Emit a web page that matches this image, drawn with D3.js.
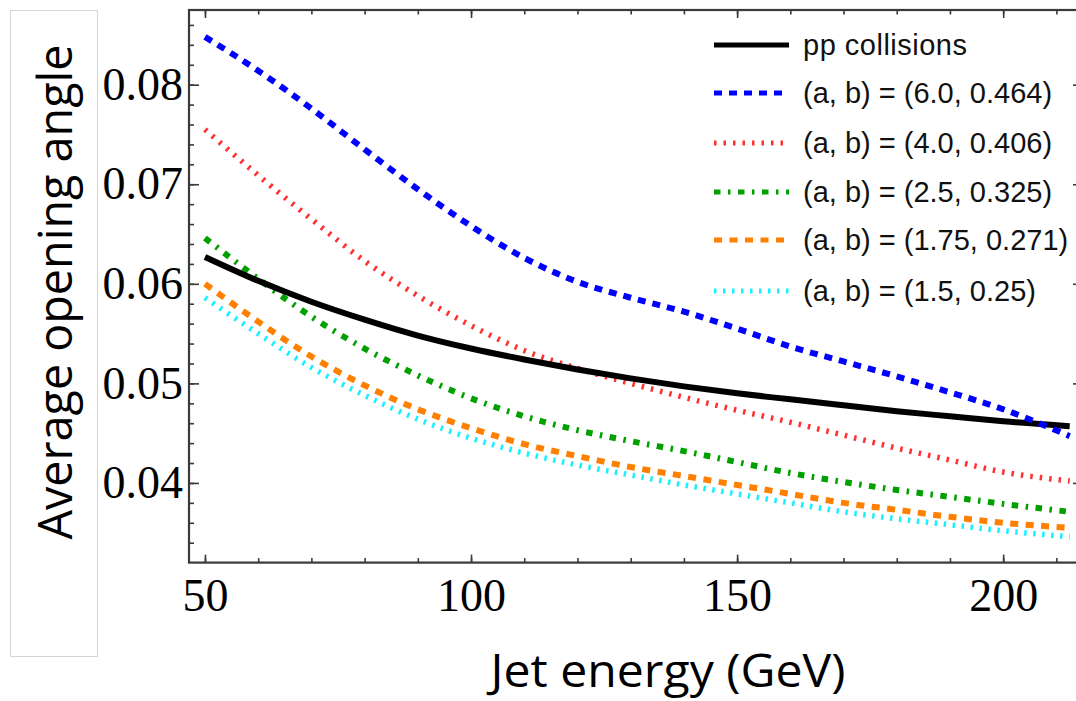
<!DOCTYPE html>
<html>
<head>
<meta charset="utf-8">
<script src="https://cdn.jsdelivr.net/npm/d3@7"></script>
<style>
  html, body { margin: 0; padding: 0; background: #fff; }
  svg { display: block; }
</style>
</head>
<body>
<svg id="chart" width="1076" height="701"></svg>
<script>
// Jet energy grid (GeV) shared by every curve
const energies = [50, 60, 70, 80, 90, 100, 110, 120, 130, 140, 150, 160, 170, 180, 190, 200, 212.5];

// Average opening angle for each medium parameter set
const ppCollisions = [0.0627, 0.0603, 0.0582, 0.0564, 0.0548, 0.0535, 0.0524, 0.0514, 0.0505, 0.0497, 0.0490, 0.0484, 0.0478, 0.0472, 0.0467, 0.0462, 0.0457];
const ab60_0464 = [0.0848, 0.0814, 0.0776, 0.0735, 0.0695, 0.0658, 0.0626, 0.0602, 0.0586, 0.0572, 0.0555, 0.0537, 0.0522, 0.0507, 0.0491, 0.0474, 0.0447];
const ab40_0406 = [0.0755, 0.0709, 0.0665, 0.0623, 0.0588, 0.0558, 0.0533, 0.0515, 0.0500, 0.0486, 0.0473, 0.0461, 0.0448, 0.0435, 0.0423, 0.0411, 0.0402];
const ab25_0325 = [0.0646, 0.0605, 0.0567, 0.0535, 0.0508, 0.0485, 0.0467, 0.0453, 0.0442, 0.0432, 0.0421, 0.0410, 0.0401, 0.0393, 0.0386, 0.0379, 0.0371];
const ab175_0271 = [0.0600, 0.0562, 0.0527, 0.0498, 0.0474, 0.0455, 0.0439, 0.0427, 0.0416, 0.0407, 0.0398, 0.0389, 0.0380, 0.0373, 0.0366, 0.0360, 0.0355];
const ab15_025 = [0.0586, 0.0550, 0.0516, 0.0488, 0.0464, 0.0445, 0.0430, 0.0418, 0.0408, 0.0398, 0.0389, 0.0380, 0.0371, 0.0364, 0.0358, 0.0352, 0.0346];

const seriesLabels = ["pp collisions", "(a, b) = (6.0, 0.464)", "(a, b) = (4.0, 0.406)", "(a, b) = (2.5, 0.325)", "(a, b) = (1.75, 0.271)", "(a, b) = (1.5, 0.25)"];

// Axis ticks
const xMajorTicks = [50, 100, 150, 200];
const xMinorTicks = d3.range(50, 215, 10);
const yMajorTicks = [0.04, 0.05, 0.06, 0.07, 0.08];
const yMinorTicks = d3.range(17, 44).map(k => k * 0.002);

// Line styles for each curve
const styles = [
  { color: "#000000", width: 6,   dash: null },
  { color: "#0000ff", width: 6,   dash: "8,7" },
  { color: "#ff3030", width: 5.5, dash: "2.5,7" },
  { color: "#00a000", width: 6,   dash: "6.5,7.5,2.5,7.5" },
  { color: "#ff8000", width: 6,   dash: "8,7.5" },
  { color: "#19f0ff", width: 5.5, dash: "2.5,6.5" }
];

const seriesValues = [ppCollisions, ab60_0464, ab40_0406, ab25_0325, ab175_0271, ab15_025];

const svg = d3.select("#chart");

// Plot frame
const plotLeft = 189, plotRight = 1083, plotTop = 10, plotBottom = 562.6;

const x = d3.scaleLinear().domain([47, 215]).range([plotLeft, plotRight]);
const y = d3.scaleLinear().domain([0.032, 0.0875]).range([plotBottom, plotTop]);

// Box around the vertical axis title
svg.append("rect")
  .attr("x", 10.5).attr("y", 10.5)
  .attr("width", 87).attr("height", 646)
  .attr("fill", "#fff")
  .attr("stroke", "#d4d4d4").attr("stroke-width", 1);

const axisColor = "#3a3a3a";
const tickFont = "'Liberation Serif', 'Times New Roman', serif";

function styleAxis(g) {
  g.selectAll("path.domain").remove();
  g.selectAll(".tick line").attr("stroke", axisColor).attr("stroke-width", 1.6);
  g.selectAll(".tick text")
    .attr("fill", "#000")
    .style("font-family", tickFont)
    .style("font-size", "46px");
}

// Bottom axis
svg.append("g").attr("transform", `translate(0,${plotBottom})`)
  .call(d3.axisBottom(x).tickValues(xMinorTicks).tickSize(-4.5).tickFormat(""))
  .call(styleAxis);
svg.append("g").attr("transform", `translate(0,${plotBottom})`)
  .call(d3.axisBottom(x).tickValues(xMajorTicks).tickSize(-8).tickPadding(16).tickFormat(d3.format("d")))
  .call(styleAxis);

// Top axis (ticks only)
svg.append("g").attr("transform", `translate(0,${plotTop})`)
  .call(d3.axisTop(x).tickValues(xMinorTicks).tickSize(-4.5).tickFormat(""))
  .call(styleAxis);
svg.append("g").attr("transform", `translate(0,${plotTop})`)
  .call(d3.axisTop(x).tickValues(xMajorTicks).tickSize(-8).tickFormat(""))
  .call(styleAxis);

// Left axis
svg.append("g").attr("transform", `translate(${plotLeft},0)`)
  .call(d3.axisLeft(y).tickValues(yMinorTicks).tickSize(-5).tickFormat(""))
  .call(styleAxis);
svg.append("g").attr("transform", `translate(${plotLeft},0)`)
  .call(d3.axisLeft(y).tickValues(yMajorTicks).tickSize(-10).tickPadding(6).tickFormat(d3.format(".2f")))
  .call(styleAxis);

// Right axis (ticks only)
svg.append("g").attr("transform", `translate(${plotRight},0)`)
  .call(d3.axisRight(y).tickValues(yMinorTicks).tickSize(-5).tickFormat(""))
  .call(styleAxis);
svg.append("g").attr("transform", `translate(${plotRight},0)`)
  .call(d3.axisRight(y).tickValues(yMajorTicks).tickSize(-10).tickFormat(""))
  .call(styleAxis);

// Frame lines
svg.append("rect")
  .attr("x", plotLeft).attr("y", plotTop)
  .attr("width", plotRight - plotLeft).attr("height", plotBottom - plotTop)
  .attr("fill", "none").attr("stroke", axisColor).attr("stroke-width", 2.2);

// Curves
const line = d3.line()
  .x((d, i) => x(energies[i]))
  .y(d => y(d))
  .curve(d3.curveMonotoneX);

const curvesG = svg.append("g");
// black goes over the lower curves, blue goes over black where they cross
const drawOrder = [2, 3, 4, 5, 0, 1];
drawOrder.forEach(k => {
  const s = styles[k];
  curvesG.append("path")
    .datum(seriesValues[k])
    .attr("d", line)
    .attr("fill", "none")
    .attr("stroke", s.color)
    .attr("stroke-width", s.width)
    .attr("stroke-dasharray", s.dash)
    .attr("stroke-linecap", "butt")
    .attr("stroke-linejoin", "round");
});

// Legend
const legendX0 = 714, legendX1 = 789, legendTextX = 803;
const legendRows = [45, 93, 143, 192, 240, 291];
const legend = svg.append("g");
seriesLabels.forEach((label, k) => {
  const s = styles[k];
  const yy = legendRows[k];
  legend.append("line")
    .attr("x1", legendX0).attr("x2", legendX1)
    .attr("y1", yy).attr("y2", yy)
    .attr("stroke", s.color)
    .attr("stroke-width", 5)
    .attr("stroke-dasharray", s.dash);
  legend.append("text")
    .attr("x", legendTextX).attr("y", yy)
    .attr("dy", "0.35em")
    .attr("textLength", k === 0 ? 164 : null)
    .style("font-family", "'Liberation Sans', Arial, sans-serif")
    .style("font-size", "29px")
    .attr("fill", "#111")
    .text(label);
});

// Axis titles
svg.append("text")
  .attr("transform", "translate(72,292) rotate(-90)")
  .attr("text-anchor", "middle")
  .attr("textLength", 495)
  .attr("lengthAdjust", "spacingAndGlyphs")
  .style("font-family", "'Open Sans', sans-serif")
  .style("font-size", "47px")
  .attr("fill", "#000")
  .text("Average opening angle");

svg.append("text")
  .attr("x", 668).attr("y", 687)
  .attr("text-anchor", "middle")
  .attr("textLength", 355)
  .attr("lengthAdjust", "spacingAndGlyphs")
  .style("font-family", "'Open Sans', sans-serif")
  .style("font-size", "45px")
  .attr("fill", "#000")
  .text("Jet energy (GeV)");
</script>
</body>
</html>
